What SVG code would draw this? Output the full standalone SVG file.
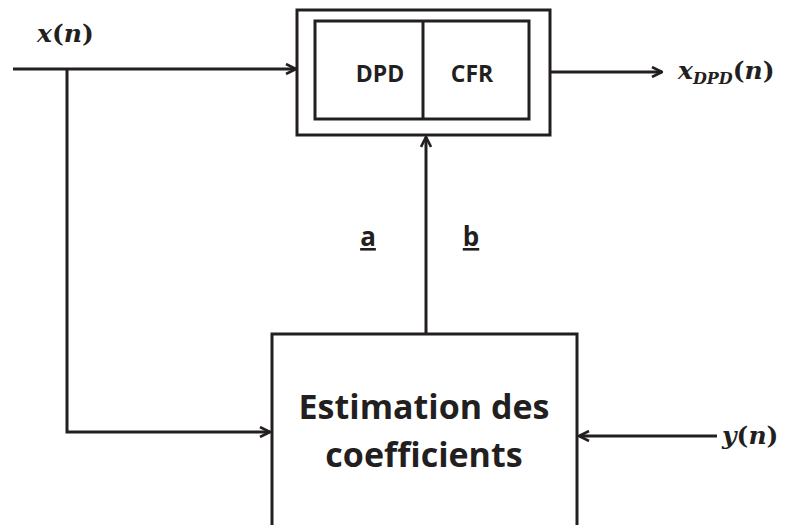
<svg xmlns="http://www.w3.org/2000/svg" width="789" height="525" viewBox="0 0 789 525">
<defs>
<style>
.ln{stroke:#231f20;stroke-width:3;fill:none}
.bx{stroke:#231f20;stroke-width:3;fill:#fff}
.lbl{font-family:"Open Sans","Liberation Sans",sans-serif;font-weight:bold;fill:#231f20}
.math{font-family:"DejaVu Serif","Liberation Serif",serif;font-weight:bold;font-style:italic;fill:#231f20}
.up{font-family:"DejaVu Serif","Liberation Serif",serif;font-weight:bold;fill:#231f20}
</style>
<marker id="ar" viewBox="0 0 12 12" refX="11" refY="6" markerWidth="12" markerHeight="12" markerUnits="userSpaceOnUse" orient="auto">
<path d="M1,1 L11,6 L1,11" fill="none" stroke="#231f20" stroke-width="2.6"/>
</marker>
</defs>
<rect width="789" height="525" fill="#fff"/>
<g id="connectors">
<path class="ln" d="M13,69 H296" marker-end="url(#ar)"/>
<path class="ln" d="M67,69 V432 H270" marker-end="url(#ar)"/>
<path class="ln" d="M529,72 H662" marker-end="url(#ar)"/>
<path class="ln" d="M426,334 V137" marker-end="url(#ar)"/>
<path class="ln" d="M717,436 H579" marker-end="url(#ar)"/>
</g>
<g id="dpd-cfr">
<rect class="bx" x="297" y="10" width="253" height="125"/>
<rect class="bx" x="315" y="21" width="214" height="98"/>
<line class="ln" x1="423" y1="21" x2="423" y2="119"/>
<text class="lbl" x="380" y="82" font-size="23" text-anchor="middle">DPD</text>
<text class="lbl" x="472" y="82" font-size="23" text-anchor="middle">CFR</text>
</g>
<g id="estimation">
<rect class="bx" x="272" y="334" width="305" height="200"/>
<text class="lbl" x="424" y="419" font-size="34" text-anchor="middle">Estimation des</text>
<text class="lbl" x="424" y="467" font-size="34" text-anchor="middle">coefficients</text>
</g>
<g id="labels">
<text x="37" y="42" font-size="25"><tspan class="math">x</tspan><tspan class="up">(</tspan><tspan class="math">n</tspan><tspan class="up">)</tspan></text>
<text x="678" y="79" font-size="25"><tspan class="math">x</tspan><tspan class="math" font-size="16" dy="5">DPD</tspan><tspan class="up" dy="-5">(</tspan><tspan class="math">n</tspan><tspan class="up">)</tspan></text>
<text x="722" y="444" font-size="25"><tspan class="math">y</tspan><tspan class="up">(</tspan><tspan class="math">n</tspan><tspan class="up">)</tspan></text>
<text class="lbl" x="368" y="246" font-size="26" text-anchor="middle" text-decoration="underline">a</text>
<text class="lbl" x="471" y="246" font-size="26" text-anchor="middle" text-decoration="underline">b</text>
</g>
</svg>
